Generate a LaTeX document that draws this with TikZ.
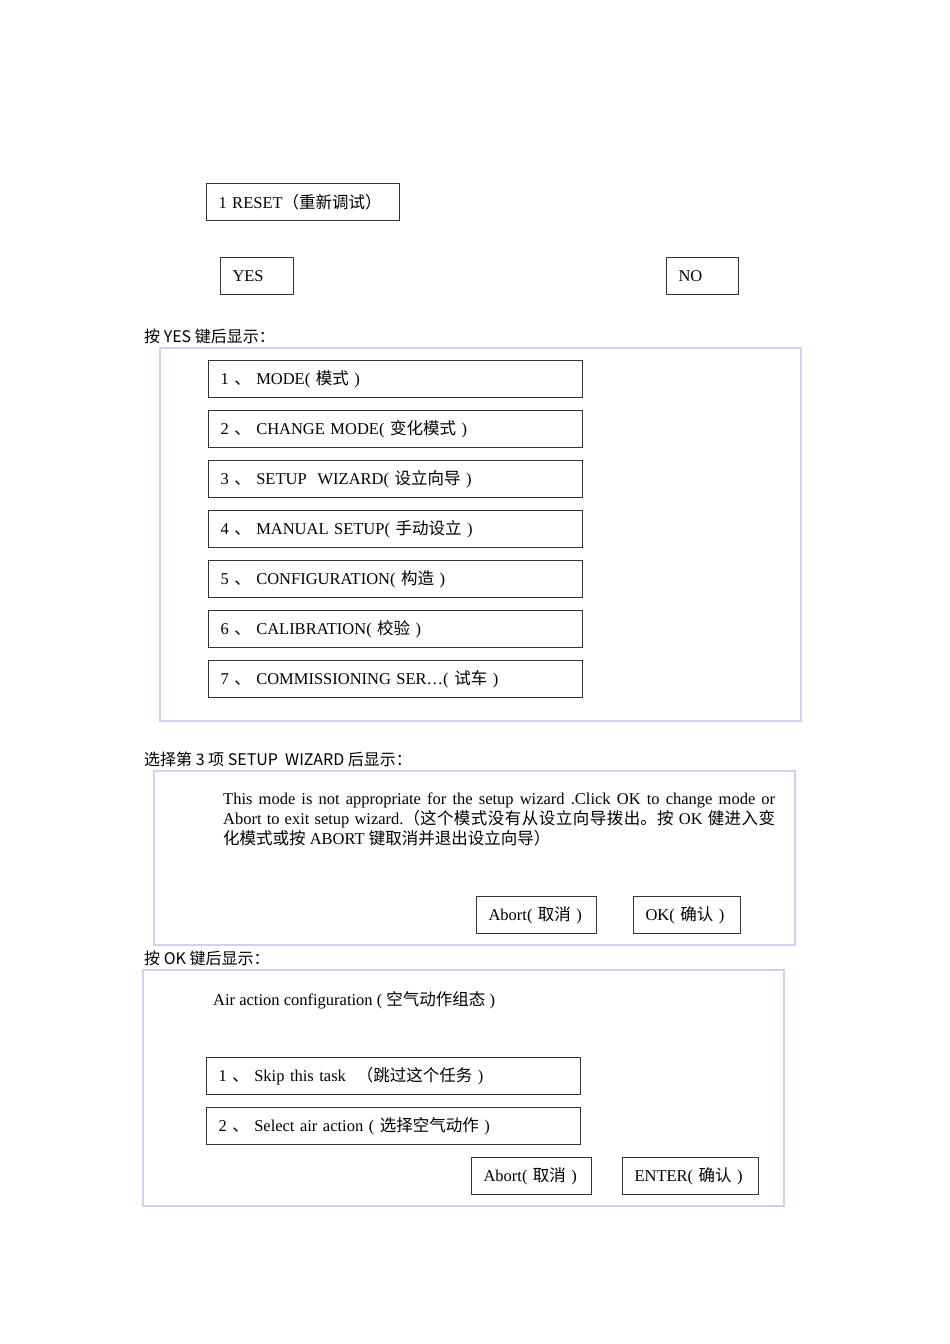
\documentclass[tikz,border=0pt]{standalone}
\usepackage{fontspec}
\setmainfont{Liberation Serif}
\newfontfamily\cjk{Noto Sans CJK SC}
\newcommand{\zh}[1]{{\cjk #1}}
\XeTeXlinebreaklocale "zh"
\XeTeXlinebreakskip=0pt plus 1pt
\usetikzlibrary{positioning}
\definecolor{panelblue}{RGB}{208,208,244}

\begin{document}
\begin{tikzpicture}[x=1pt,y=-1pt]
\tikzset{
    box/.style={rectangle, draw=black!80, line width=1pt, minimum height=37pt, inner xsep=12pt, inner ysep=0pt, text width=#1, align=left, anchor=north west, font=\fontsize{16.5pt}{19pt}\selectfont},
    item/.style={box=350pt},
    panel/.style={draw=panelblue, line width=2pt},
    heading/.style={anchor=west, inner sep=0pt, font=\cjk\fontsize{16pt}{18pt}\selectfont}
}
\useasboundingbox (0,0) rectangle (950,1344);

% reset question
\node[box=169pt] (reset) at (206,183) {1 RESET\zh{（重新调试）}};
\node[box=49pt] (yes) at (220,257) {YES};
\node[box=48pt] (no) at (666,257) {NO};

% menu after YES
\node[heading] (afteryes) at (144,336) {按 YES 键后显示：};
\draw[panel] (160,348) rectangle (801,721);
\node[item] (mode) at (208,360) {1 \zh{、} MODE( \zh{模式} )};
\node[item, below=12pt of mode] (change) {2 \zh{、} CHANGE MODE( \zh{变化模式} )};
\node[item, below=12pt of change] (wizard) {3 \zh{、} SETUP\ \ WIZARD( \zh{设立向导} )};
\node[item, below=12pt of wizard] (manual) {4 \zh{、} MANUAL SETUP( \zh{手动设立} )};
\node[item, below=12pt of manual] (config) {5 \zh{、} CONFIGURATION( \zh{构造} )};
\node[item, below=12pt of config] (calib) {6 \zh{、} CALIBRATION( \zh{校验} )};
\node[item, below=12pt of calib] (commis) {7 \zh{、} COMMISSIONING SER\ldots( \zh{试车} )};

% wizard warning
\node[heading] (aftersetup) at (144,759) {选择第 3 项 SETUP\ \ WIZARD 后显示：};
\draw[panel] (154,771) rectangle (795,945);
\node[anchor=north west, inner sep=0pt, text width=552pt, align=justify, font=\fontsize{16.5pt}{20pt}\selectfont] (warning) at (223,793)
    {This mode is not appropriate for the setup wizard .Click OK to change mode or\linebreak
     Abort to exit setup wizard.\zh{（这个模式没有从设立向导拨出。按} OK \zh{健进入变}\linebreak
     \zh{化模式或按} ABORT \zh{键取消并退出设立向导）}};
\node[box=96pt] (abort) at (476,896) {Abort( \zh{取消} )};
\node[box=83pt] (ok) at (633,896) {OK( \zh{确认} )};

% air action
\node[heading] (afterok) at (144,958) {按 OK 键后显示：};
\draw[panel] (143,970) rectangle (784,1206);
\node[anchor=west, inner sep=0pt, font=\fontsize{16.5pt}{19pt}\selectfont] (airtitle) at (213,1000) {Air action configuration ( \zh{空气动作组态} )};
\node[item] (skip) at (206,1057) {1 \zh{、} Skip this task\ \ \zh{（跳过这个任务} )};
\node[item, below=12pt of skip] (select) {2 \zh{、} Select air action ( \zh{选择空气动作} )};
\node[box=96pt] (abortair) at (471,1157) {Abort( \zh{取消} )};
\node[box=112pt] (enter) at (622,1157) {ENTER( \zh{确认} )};
\end{tikzpicture}
\end{document}
